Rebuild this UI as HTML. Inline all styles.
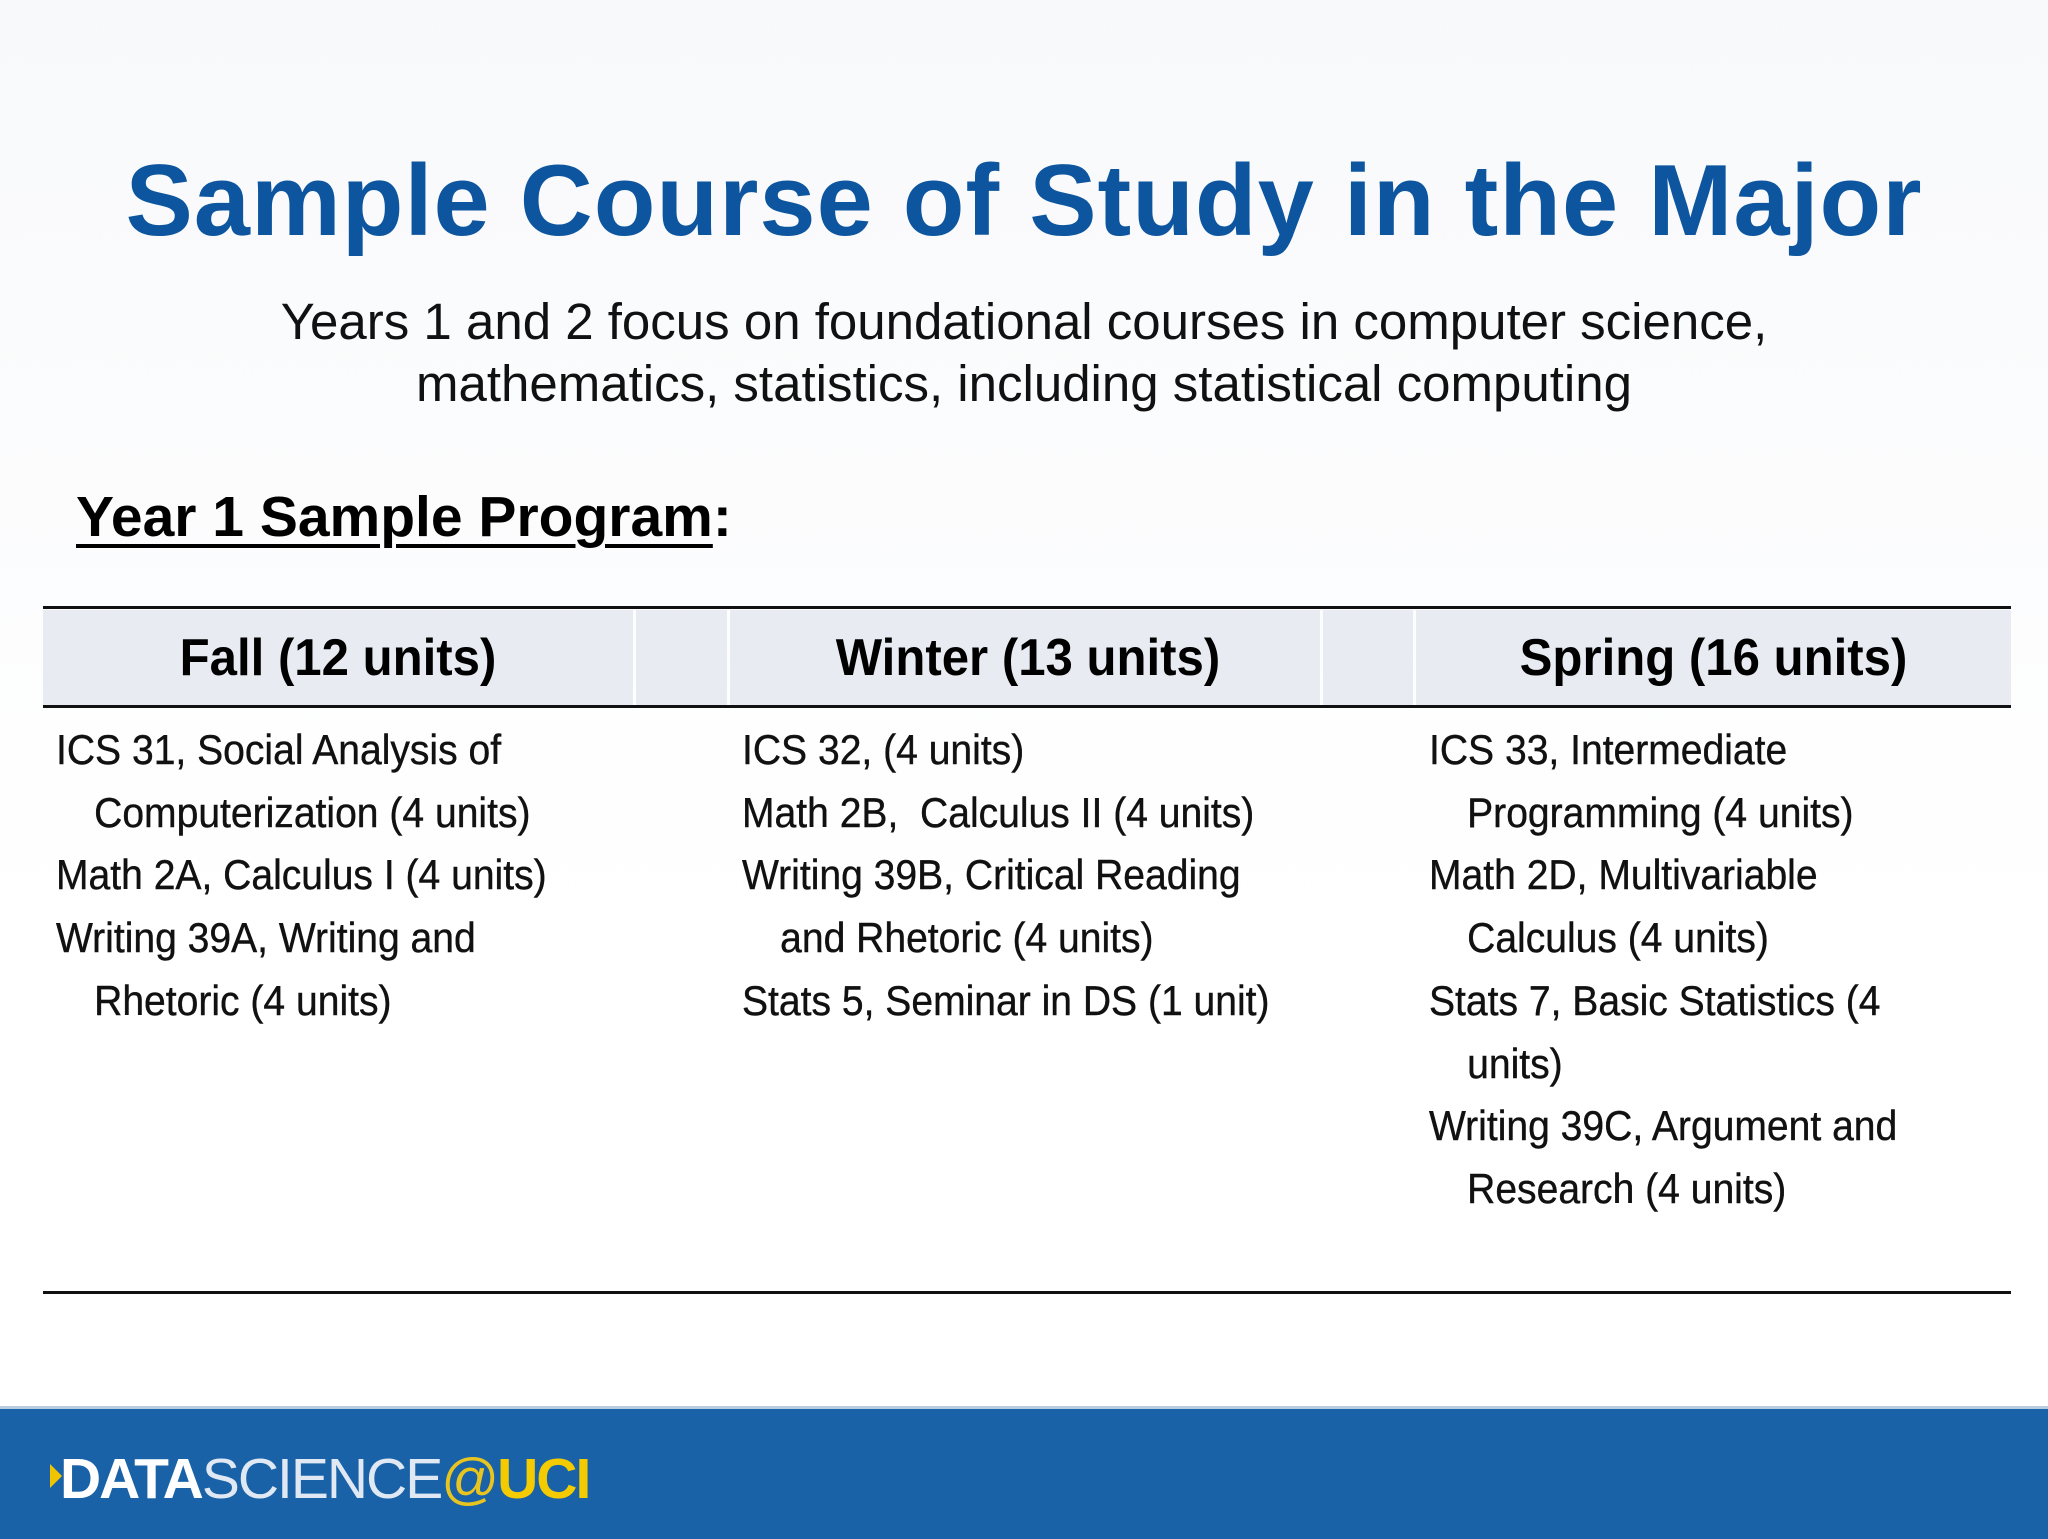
<!DOCTYPE html>
<html><head><meta charset="utf-8"><style>
body{margin:0;width:2048px;height:1536px;position:relative;overflow:hidden;background:linear-gradient(#f8f9fb,#ffffff 60%);font-family:"Liberation Sans",sans-serif}
.abs{position:absolute;white-space:nowrap}
#title{left:0;width:2048px;text-align:center;top:136px;font-size:101px;font-weight:bold;color:#0d569f;line-height:130px;letter-spacing:1px}
.sub{left:0;width:2048px;text-align:center;font-size:51px;color:#111;line-height:60px}
#yr{left:76px;top:484px;font-size:57px;font-weight:bold;color:#000}
.hl{position:absolute;left:43px;width:1968px;background:#111}
.hc{position:absolute;top:610px;height:95px;background:#e8ebf2}
.ht{position:absolute;top:626px;font-size:52px;font-weight:bold;color:#000;transform:scaleX(0.945);transform-origin:center;text-align:center;line-height:64px}
.cell{position:absolute;font-size:42px;color:#111;line-height:62.7px;transform:scaleX(0.93);transform-origin:left top;white-space:nowrap;-webkit-text-stroke:0.4px #111}
.ind{padding-left:41px}
#footer{position:absolute;left:0;top:1406px;width:2048px;height:130px;background:#1a62a7;border-top:3px solid #b9cbe0}
</style></head><body>
<div id="title" class="abs">Sample Course of Study in the Major</div>
<div class="abs sub" style="top:292px">Years 1 and 2 focus on foundational courses in computer science,</div>
<div class="abs sub" style="top:354px">mathematics, statistics, including statistical computing</div>
<div id="yr" class="abs"><span style="text-decoration:underline;text-decoration-thickness:4px;text-underline-offset:8px">Year 1 Sample Program</span>:</div>

<div class="hc" style="left:43px;width:590px"></div>
<div class="hc" style="left:636px;width:91px"></div>
<div class="hc" style="left:730px;width:590px"></div>
<div class="hc" style="left:1323px;width:90px"></div>
<div class="hc" style="left:1416px;width:595px"></div>
<div class="hl" style="top:606px;height:3px"></div>
<div class="hl" style="top:705px;height:3px"></div>
<div class="hl" style="top:1291px;height:3px"></div>

<div class="ht" style="left:43px;width:590px">Fall (12 units)</div>
<div class="ht" style="left:730px;width:596px">Winter (13 units)</div>
<div class="ht" style="left:1416px;width:595px">Spring (16 units)</div>

<div class="cell" style="left:56px;top:719px">
<div>ICS 31, Social Analysis of</div><div class="ind">Computerization (4 units)</div><div>Math 2A, Calculus I (4 units)</div><div>Writing 39A, Writing and</div><div class="ind">Rhetoric (4 units)</div></div>
<div class="cell" style="left:742px;top:719px">
<div>ICS 32, (4 units)</div><div>Math 2B,&nbsp; Calculus II (4 units)</div><div>Writing 39B, Critical Reading</div><div class="ind">and Rhetoric (4 units)</div><div>Stats 5, Seminar in DS (1 unit)</div></div>
<div class="cell" style="left:1429px;top:719px">
<div>ICS 33, Intermediate</div><div class="ind">Programming (4 units)</div><div>Math 2D, Multivariable</div><div class="ind">Calculus (4 units)</div><div>Stats 7, Basic Statistics (4</div><div class="ind">units)</div><div>Writing 39C, Argument and</div><div class="ind">Research (4 units)</div></div>

<div id="footer">
<svg style="position:absolute;left:50px;top:55px" width="12" height="24"><polygon points="0,0 12,12 0,24" fill="#f1c400"/></svg>
<div class="abs" style="left:60px;top:37px;font-size:57px;line-height:66px;color:#fff;letter-spacing:-2px"><b>DATA</b><span style="color:#dfe8f3">SCIENCE</span><span style="color:#e8c420">@</span><b style="color:#f4cb00">UCI</b></div>
</div>
</body></html>
